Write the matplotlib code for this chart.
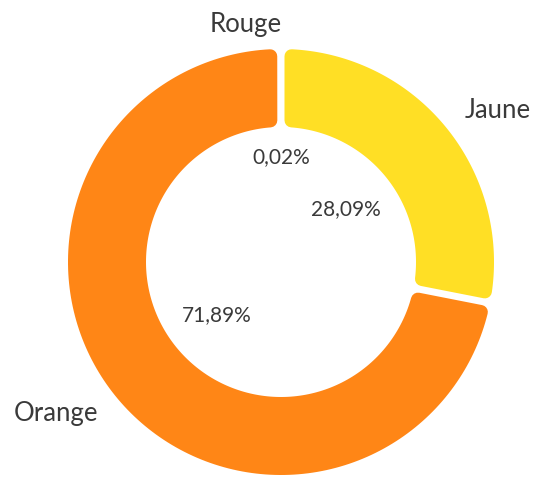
import numpy as np
import matplotlib

matplotlib.use("Agg")
from matplotlib import pyplot as plt
from matplotlib.path import Path
from matplotlib.patches import PathPatch

labels = ["Jaune", "Orange", "Rouge"]
values = [28.09, 71.89, 0.02]
pct_labels = ["28,09%", "71,89%", "0,02%"]
colors = ["#FFDF25", "#FF8616", "#E8322B"]

W, H = 548, 483
CX, CY = 281, 221
R_OUT, R_IN = 213, 135
CORNER = 7.0
GAP = 3.5
TEXT = "#3a3a3a"


def rounded_sector(a0, a1):
    """Shrunk annular sector (angles in degrees, a0 > a1, clockwise)."""
    d = GAP + CORNER
    r_o = R_OUT - CORNER
    r_i = R_IN + CORNER
    t0, t1 = np.radians(a0), np.radians(a1)
    o0, o1 = t0 - np.arcsin(d / r_o), t1 + np.arcsin(d / r_o)
    i0, i1 = t0 - np.arcsin(d / r_i), t1 + np.arcsin(d / r_i)
    if o0 <= o1:
        return None
    to = np.linspace(o0, o1, 200)
    ti = np.linspace(i1, i0, 200)
    xs = np.concatenate([CX + r_o * np.cos(to), CX + r_i * np.cos(ti)])
    ys = np.concatenate([CY + r_o * np.sin(to), CY + r_i * np.sin(ti)])
    verts = np.column_stack([xs, ys])
    verts = np.vstack([verts, verts[:1]])
    codes = [Path.MOVETO] + [Path.LINETO] * (len(verts) - 2) + [Path.CLOSEPOLY]
    return Path(verts, codes)


fig = plt.figure(figsize=(W / 100, H / 100), dpi=100)
ax = fig.add_axes([0, 0, 1, 1])
ax.set_xlim(0, W)
ax.set_ylim(0, H)
ax.axis("off")

total = sum(values)
start = 90.0
lw_pt = 2 * CORNER * 72 / 100
pct_radius = [84, 83, 105]
for i, (lab, val, pct, col) in enumerate(zip(labels, values, pct_labels, colors)):
    span = 360.0 * val / total
    end = start - span
    path = rounded_sector(start, end)
    if path is not None:
        ax.add_patch(PathPatch(path, facecolor=col, edgecolor=col,
                               linewidth=lw_pt, joinstyle="round"))
    mid = np.radians(start - span / 2)
    if lab == "Rouge":
        mid = np.radians(start + 0.05)
    rp = pct_radius[i]
    px, py = CX + rp * np.cos(mid), CY + rp * np.sin(mid)
    if lab == "Rouge":
        px = CX
    ax.text(px, py, pct, ha="center", va="center", fontsize=15,
            color=TEXT, family="Lato")
    rl = 238
    ha = "left" if np.cos(mid) > 0 else "right"
    ax.text(CX + rl * np.cos(mid) + (1 if ha == "right" else 0), CY + rl * np.sin(mid), lab,
            ha=ha, va="center", fontsize=18.5, color=TEXT, family="Lato")
    start = end

fig.savefig("out.png", dpi=100)
